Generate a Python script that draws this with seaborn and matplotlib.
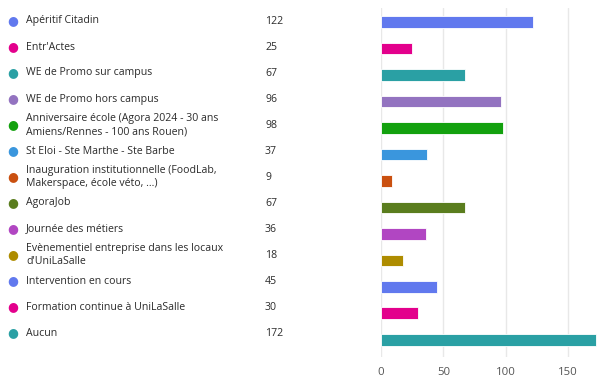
import matplotlib
matplotlib.use("Agg")
import matplotlib.pyplot as plt
import seaborn as sns
import pandas as pd

categories = [
    "Apéritif Citadin",
    "Entr'Actes",
    "WE de Promo sur campus",
    "WE de Promo hors campus",
    "Anniversaire école (Agora 2024 - 30 ans\nAmiens/Rennes - 100 ans Rouen)",
    "St Eloi - Ste Marthe - Ste Barbe",
    "Inauguration institutionnelle (FoodLab,\nMakerspace, école véto, ...)",
    "AgoraJob",
    "Journée des métiers",
    "Evènementiel entreprise dans les locaux\nd'UniLaSalle",
    "Intervention en cours",
    "Formation continue à UniLaSalle",
    "Aucun",
]
values = [122, 25, 67, 96, 98, 37, 9, 67, 36, 18, 45, 30, 172]
colors = ["#6179EE", "#E3008C", "#2AA0A4", "#9373C0", "#13A10E", "#3A96DD",
          "#CA5010", "#5A7D1E", "#B146C2", "#AE8C00", "#6179EE", "#E3008C", "#2AA0A4"]
xticks = [0, 50, 100, 150]

sns.set_theme(style="white")
plt.rcParams['font.family'] = ['Open Sans', 'DejaVu Sans']

W, H = 605, 382
fig = plt.figure(figsize=(W / 100, H / 100), dpi=100)

df = pd.DataFrame({"cat": categories, "val": values})

ax = fig.add_axes([381 / W, 1 - 357 / H, 219 / W, (357 - 8) / H])
sns.barplot(data=df, y="cat", x="val", hue="cat", palette=colors, legend=False,
            orient="h", width=0.44, ax=ax, edgecolor="#ffffff", linewidth=0.6,
            saturation=1)
ax.set_xlim(0, 175.5)
ax.set_ylim(12.65, -0.53)
ax.set_xticks(xticks)
ax.set_yticks([])
ax.set_xlabel("")
ax.set_ylabel("")
for s in ax.spines.values():
    s.set_visible(False)
ax.grid(axis="x", color="#e8e8e8", linewidth=1)
ax.set_axisbelow(True)
ax.axvline(0, color="#d0d0d0", linewidth=1.2, zorder=0.5)
ax.tick_params(axis="x", length=0, pad=7, labelsize=8.2, labelcolor="#555555")

# left-hand table of labels, dots and counts
row0, step = 21, 26
for i, (c, v, col) in enumerate(zip(categories, values, colors)):
    y = 1 - (row0 + step * i) / H
    fig.text(13 / W, y, "●", color=col, fontsize=9, ha="center", va="center",
             family=['DejaVu Sans'])
    fig.text(26 / W, y, c, color="#2b2b2b", fontsize=7.6, ha="left", va="center",
             linespacing=1.25)
    fig.text(265 / W, y, str(v), color="#2b2b2b", fontsize=7.6, ha="left", va="center")

fig.savefig("out.png", dpi=100, facecolor="white")
